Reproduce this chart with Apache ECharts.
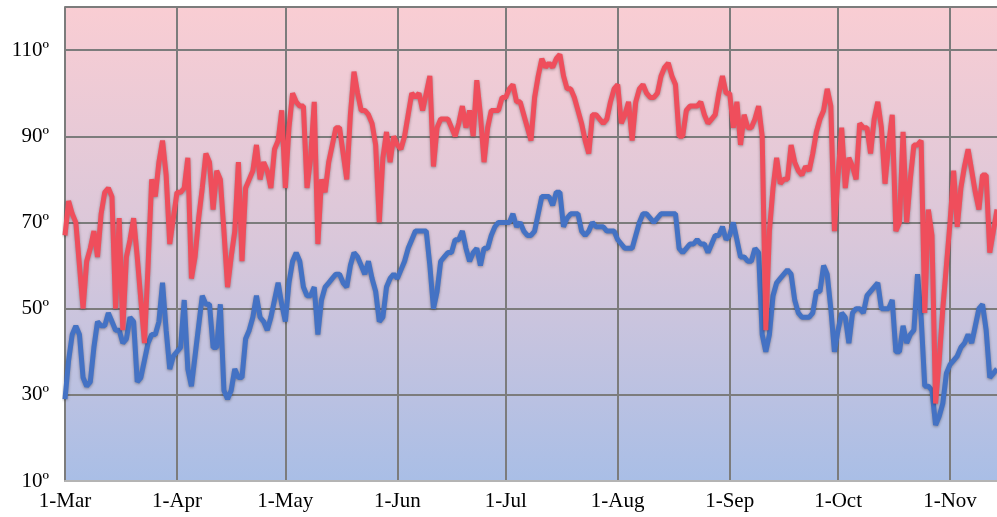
<!DOCTYPE html>
<html>
<head>
<meta charset="utf-8">
<script src="https://cdn.jsdelivr.net/npm/echarts@6/dist/echarts.min.js"></script>
<style>
html,body{margin:0;padding:0;background:#fff;}
#chart{width:997px;height:517px;}
</style>
</head>
<body>
<div id="chart"></div>
<script>
// Month names and lengths (1 March onward)
var monthNames = ['Mar','Apr','May','Jun','Jul','Aug','Sep','Oct','Nov'];
var monthDays  = [31,30,31,30,31,31,30,31,30];
var dayCount = 259; // 1-Mar .. 14-Nov

// Y axis tick settings
var yMin = 10, yMax = 120, yStep = 20;

// Daily high temperatures (ºF)
var highs = [
 67,75,72,70,60,50,61,64,68,62, 72,77,78,76,50,71,45,62,66,71,
 62,52,42,60,80,76,84,89,81,65, 71,77,77,78,85,57,62,71,78,86,
 84,73,82,80,68,55,62,68,84,61, 78,80,82,88,80,84,82,78,87,89,
 96,78,92,100,98,97,97,78,85,98, 65,80,77,84,88,92,92,86,80,95,
 105,100,96,96,95,93,88,70,85,91, 84,90,88,87,90,95,100,99,100,96,
 100,104,83,92,94,94,94,92,90,93, 97,92,96,90,103,95,84,92,96,96,
 96,99,99,101,102,98,98,95,92,89, 99,104,108,106,107,106,108,109,104,101,
 101,99,96,93,89,86,95,95,94,93, 94,98,101,102,93,95,98,89,98,101,
 102,100,99,99,100,104,106,107,104,102, 90,90,96,97,97,97,98,95,93,94,
 95,100,104,100,100,92,98,88,95,92, 92,94,97,90,45,68,78,85,79,80,
 80,88,84,82,81,83,82,86,91,94, 96,101,97,68,81,92,78,85,83,80,
 93,92,92,86,94,98,92,79,88,95, 68,70,91,70,80,88,88,89,49,73,
 67,28,38,50,60,70,82,69,78,83, 87,82,77,73,81,81,63,68,73
];

// Daily low temperatures (ºF)
var lows = [
 29,38,44,46,44,34,32,33,41,47, 46,46,49,47,45,45,42,43,48,47,
 33,34,38,42,44,44,47,56,45,36, 39,40,41,52,36,32,39,46,53,51,
 51,41,41,51,31,29,31,36,34,34, 43,45,48,53,48,47,45,48,52,56,
 51,47,56,61,63,61,55,53,53,55, 44,52,55,56,57,58,58,56,55,60,
 63,62,60,58,61,57,54,47,48,55, 57,58,57,59,61,64,66,68,68,68,
 68,60,50,54,61,62,63,63,66,66, 68,64,61,63,64,60,64,64,67,69,
 70,70,70,70,72,69,70,68,67,67, 68,72,76,76,76,74,77,77,69,71,
 72,72,72,68,67,68,70,69,69,69, 68,68,68,66,65,64,64,64,67,70,
 72,72,71,70,71,72,72,72,72,72, 64,63,64,65,65,66,65,65,63,65,
 67,67,69,66,67,70,66,62,62,61, 61,64,63,44,40,44,53,56,57,58,
 59,58,52,49,48,48,48,49,54,54, 60,58,50,40,45,49,48,42,49,50,
 50,49,53,54,55,56,50,50,50,52, 40,40,46,42,44,45,58,48,32,32,
 31,23,25,28,35,37,38,39,41,42, 44,42,46,50,51,45,34,35,36
];

// Build day category labels like "1-Mar"
var categories = [];
(function(){
  var m = 0, d = 1;
  for (var i = 0; i < dayCount; i++) {
    categories.push(d + '-' + monthNames[m]);
    d++;
    if (d > monthDays[m]) { d = 1; m++; }
  }
})();

function isMonthStart(idx, val) {
  return /^1-/.test(val);
}

var chart = echarts.init(document.getElementById('chart'), null, {renderer:'canvas'});
var gray = '#7c7c7c';
chart.setOption({
  animation: false,
  grid: {
    left: 65, top: 7, width: 933, height: 474,
    show: true,
    borderWidth: 0,
    backgroundColor: {
      type: 'linear', x: 0, y: 0, x2: 0, y2: 1,
      colorStops: [
        {offset: 0, color: '#f9cdd3'},
        {offset: 0.5, color: '#d9c7da'},
        {offset: 1, color: '#a9bee6'}
      ]
    }
  },
  xAxis: {
    type: 'category',
    data: categories,
    boundaryGap: false,
    axisLine: {show: true, lineStyle: {color: '#b4b4b4', width: 2}},
    axisTick: {show: false},
    axisLabel: {
      interval: isMonthStart,
      color: '#000',
      fontFamily: 'Liberation Serif',
      fontSize: 21,
      margin: 10
    },
    splitLine: {
      show: true,
      interval: isMonthStart,
      lineStyle: {color: gray, width: 2}
    }
  },
  yAxis: {
    type: 'value',
    min: yMin, max: yMax, interval: yStep,
    axisLine: {show: true, lineStyle: {color: gray, width: 2}},
    axisTick: {show: false},
    axisLabel: {
      color: '#000',
      fontFamily: 'Liberation Serif',
      fontSize: 21,
      margin: 16,
      showMaxLabel: false,
      formatter: function(v){ return v === yMax ? '' : v + 'º'; }
    },
    splitLine: {
      show: true,
      showMinLine: false,
      lineStyle: {color: gray, width: 2}
    }
  },
  series: [
    {
      name: 'Low',
      type: 'line',
      data: lows,
      showSymbol: false,
      symbol: 'none',
      lineStyle: {
        color: '#4472c4', width: 5,
        shadowColor: 'rgba(0,0,0,0.35)', shadowBlur: 3, shadowOffsetY: 1
      },
      z: 3
    },
    {
      name: 'High',
      type: 'line',
      data: highs,
      showSymbol: false,
      symbol: 'none',
      lineStyle: {
        color: '#ef4e5c', width: 5,
        shadowColor: 'rgba(0,0,0,0.35)', shadowBlur: 3, shadowOffsetY: 1
      },
      z: 4
    }
  ]
});
</script>
</body>
</html>
